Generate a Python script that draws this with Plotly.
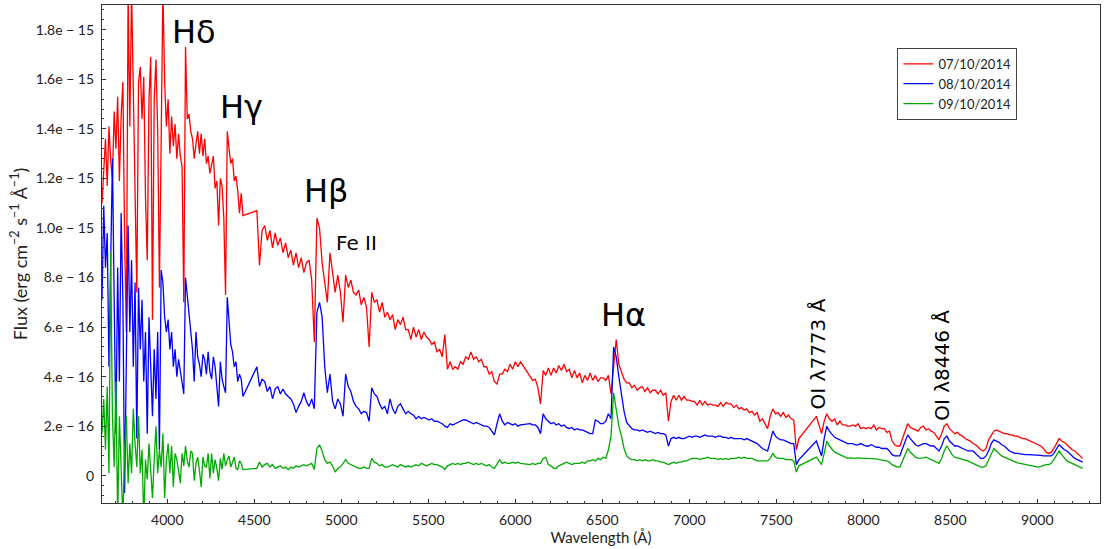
import numpy as np
import plotly.graph_objects as go

# Flux values are listed in units of 1e-16 erg cm^-2 s^-1 A^-1
FLUX_UNIT = 1e-16

# Dispersion grid: (first wavelength, last wavelength, step) of each spectral chunk, in Angstrom.
# The chunks are separated by the detector / telluric gaps.
chunks = [(3625, 4435, 10), (4515, 6030, 15), (6085, 7630, 15), (7730, 9260, 15)]

# --- 07/10/2014 ---
red_a = [11.0, 12.4, 13.6, 11.7, 14.1, 12.7, 12.0, 14.7, 13.2, 15.3,
         11.9, 14.5, 15.9, 9.5, 5.8, 19.6, 14.1, 19.6, 15.2, 11.7,
         7.4, 15.9, 16.5, 14.4, 16.1, 11.2, 8.7, 15.2, 16.9, 6.3,
         15.2, 16.8, 13.9, 7.6, 13.2, 19.6, 15.9, 14.1, 15.2, 13.0,
         14.5, 13.3, 14.2, 12.8, 13.8, 12.9, 12.5, 7.0, 17.3, 14.4,
         14.6, 13.9, 13.6, 12.8, 13.4, 13.9, 13.0, 13.8, 12.9, 13.6,
         12.6, 12.9, 12.2, 12.5, 12.9, 11.6, 11.9, 10.1, 12.0, 11.7,
         10.4, 7.3, 13.9, 13.2, 12.6, 12.8, 11.9, 12.1, 11.5, 10.6,
         11.4, 10.5]
red_b1 = [10.7, 8.5, 9.9, 10.1, 9.5, 9.9, 9.2, 9.8, 9.3, 9.6,
          9.0, 9.4, 8.8, 9.1, 8.5, 9.0, 8.4, 8.8, 8.2, 8.6,
          8.7, 7.9, 5.4, 10.4, 10.0, 8.6, 7.8, 7.0, 9.0, 8.1,
          7.4, 8.1, 7.4, 6.2, 8.1, 7.6, 7.9, 7.4, 7.3, 7.5,
          6.9, 7.2, 6.8, 5.2, 7.4, 7.0, 7.1, 6.6, 7.0, 6.4,
          6.6, 6.3, 6.5, 5.9, 6.3, 6.1, 6.4, 5.9, 5.9, 5.5,
          6.0, 5.6, 5.9, 5.5, 5.8, 5.6, 5.5, 5.3, 5.4, 5.0,
          5.1, 4.8, 5.7, 4.3, 4.6, 4.3, 4.4, 4.3, 4.6, 4.5,
          4.8, 4.7, 5.0, 4.7, 4.8, 4.6, 4.7, 4.4, 4.4, 4.1,
          4.2, 3.8, 3.7, 4.1, 4.1, 4.3, 4.2, 4.5, 4.3, 4.6,
          4.4, 4.6]
red_b2 = [4.0, 3.85, 3.9, 3.55, 2.9, 4.25, 4.05, 4.35, 4.05, 4.35,
          4.15, 4.45, 4.25, 4.5, 4.2, 4.3, 3.95, 4.25, 3.95, 4.15,
          3.75, 4.05, 3.85, 4.15, 3.85, 4.05, 3.8, 3.95, 3.95, 3.85,
          4.05, 3.3, 4.4, 5.5, 4.5, 4.2, 3.9, 3.75, 3.75, 3.55,
          3.65, 3.45, 3.55, 3.6, 3.4, 3.55, 3.35, 3.45, 3.45, 3.3,
          3.45, 3.25, 3.35, 2.2, 3.0, 3.25, 3.05, 3.25, 3.05, 3.2,
          3.05, 3.05, 3.0, 3.0, 2.85, 3.05, 2.85, 3.0, 2.85, 2.9,
          2.85, 2.85, 2.8, 2.95, 2.8, 2.95, 2.9, 2.9, 2.75, 2.85,
          2.7, 2.75, 2.65, 2.7, 2.55, 2.6, 2.45, 2.55, 2.2, 2.3,
          2.1, 1.9, 2.4, 2.7, 2.5, 2.55, 2.4, 2.55, 2.35, 2.45,
          2.3, 2.25, 1.05, 1.5]
red_c = [2.4, 2.0, 1.7, 2.2, 2.5, 2.3, 2.2, 2.3, 2.05, 2.2,
         2.05, 2.05, 2.0, 2.0, 2.05, 2.0, 2.1, 1.9, 1.95, 1.9,
         1.95, 1.9, 2.05, 1.85, 1.95, 1.9, 1.9, 1.75, 1.8, 1.4,
         1.25, 1.2, 1.2, 1.5, 1.8, 2.1, 1.95, 1.9, 1.85, 1.8,
         1.95, 2.0, 1.85, 1.9, 1.8, 1.75, 1.6, 1.45, 1.7, 2.0,
         2.1, 1.9, 1.8, 1.7, 1.75, 1.65, 1.6, 1.5, 1.45, 1.4,
         1.3, 1.25, 1.15, 1.05, 1.0, 1.1, 1.45, 1.6, 1.8, 1.85,
         1.8, 1.75, 1.7, 1.7, 1.65, 1.65, 1.6, 1.6, 1.55, 1.5,
         1.5, 1.45, 1.4, 1.35, 1.3, 1.25, 1.2, 1.1, 0.95, 0.9,
         0.95, 1.1, 1.3, 1.5, 1.4, 1.35, 1.25, 1.15, 1.05, 1.0,
         0.9, 0.8, 0.7]

# --- 08/10/2014 ---
blue_a = [7.1, 10.9, 8.4, 9.8, 4.4, 9.1, 12.8, 7.1, 1.7, 8.4,
          3.8, 10.6, 7.1, -0.7, 5.8, 10.1, 5.8, 8.7, 4.4, 7.8,
          1.5, 7.6, 5.1, 7.1, 3.8, 5.8, 1.7, 6.4, 4.4, 2.4,
          5.1, 3.1, 5.8, 1.05, 8.3, 7.8, 6.4, 5.8, 6.3, 5.1,
          5.8, 4.4, 5.1, 4.0, 4.7, 4.2, 3.8, 3.3, 8.0, 7.2,
          6.4, 5.6, 5.1, 3.8, 5.8, 4.8, 4.5, 4.0, 4.9, 4.7,
          4.1, 5.0, 4.2, 3.9, 4.8, 4.4, 3.5, 2.8, 4.6, 3.9,
          3.6, 3.35, 7.2, 6.3, 5.3, 5.0, 4.4, 4.6, 3.8, 4.1,
          3.9, 3.2]
blue_b1 = [4.4, 3.6, 3.9, 3.8, 3.4, 3.6, 3.1, 3.5, 3.6, 3.3,
           3.5, 3.3, 3.2, 3.1, 2.9, 2.55, 2.8, 3.0, 3.35, 3.0,
           2.8, 3.1, 2.7, 6.6, 7.0, 6.4, 4.4, 3.35, 4.1, 3.0,
           2.7, 3.1, 2.9, 2.4, 4.1, 3.6, 3.4, 3.0, 2.8, 2.7,
           2.5, 2.6, 2.55, 2.2, 3.55, 3.3, 3.2, 2.9, 2.7, 2.8,
           2.5, 3.1, 2.7, 2.5, 2.8, 2.9, 2.7, 2.5, 2.6, 2.5,
           2.45, 2.3, 2.4, 2.3, 2.35, 2.3, 2.25, 2.3, 2.2, 2.2,
           2.15, 2.1, 2.0, 1.95, 2.1, 2.05, 2.1, 2.15, 2.2, 2.25,
           2.25, 2.2, 2.15, 2.1, 2.15, 2.1, 2.05, 2.0, 2.0, 1.95,
           1.8, 1.65, 2.1, 2.5, 2.2, 2.05, 2.15, 2.1, 2.05, 2.1,
           2.0, 2.05]
blue_b2 = [2.1, 2.05, 2.05, 1.95, 1.7, 2.5, 2.3, 2.2, 2.1, 2.15,
           2.05, 2.1, 2.0, 2.05, 1.95, 1.9, 1.95, 1.85, 1.9, 1.85,
           1.85, 1.8, 1.75, 1.7, 1.7, 2.25, 2.2, 2.1, 2.1, 2.2,
           2.5, 2.3, 5.2, 4.8, 4.0, 3.3, 2.6, 2.15, 2.0, 1.9,
           1.85, 1.85, 1.8, 1.85, 1.8, 1.75, 1.8, 1.75, 1.7, 1.75,
           1.7, 1.7, 1.65, 1.2, 1.5, 1.55, 1.5, 1.55, 1.5, 1.5,
           1.55, 1.6, 1.55, 1.6, 1.6, 1.55, 1.6, 1.65, 1.6, 1.6,
           1.6, 1.55, 1.6, 1.6, 1.55, 1.55, 1.5, 1.55, 1.5, 1.5,
           1.5, 1.5, 1.45, 1.5, 1.45, 1.4, 1.35, 1.3, 1.2, 1.1,
           1.05, 1.0, 1.4, 1.8, 1.6, 1.5, 1.45, 1.45, 1.4, 1.35,
           1.3, 1.3, 0.45, 0.65]
blue_c = [1.4, 1.1, 0.8, 1.5, 2.0, 1.8, 1.65, 1.55, 1.5, 1.45,
          1.4, 1.35, 1.3, 1.3, 1.3, 1.25, 1.25, 1.3, 1.25, 1.2,
          1.2, 1.25, 1.2, 1.15, 1.15, 1.1, 1.1, 1.1, 1.0, 0.85,
          0.8, 0.8, 0.8, 1.1, 1.4, 1.65, 1.5, 1.35, 1.25, 1.2,
          1.25, 1.3, 1.3, 1.25, 1.2, 1.2, 1.1, 1.0, 1.2, 1.5,
          1.6, 1.4, 1.3, 1.2, 1.2, 1.15, 1.1, 1.05, 1.0, 1.0,
          1.0, 0.9, 0.8, 0.7, 0.7, 0.8, 1.0, 1.3, 1.45, 1.4,
          1.35, 1.25, 1.2, 1.1, 1.0, 0.95, 0.9, 0.9, 0.88, 0.85,
          0.85, 0.85, 0.85, 0.85, 0.85, 0.85, 0.82, 0.8, 0.8, 0.8,
          0.8, 0.9, 1.1, 1.25, 1.15, 1.05, 1.0, 0.9, 0.8, 0.7,
          0.65, 0.6, 0.55]

# --- 09/10/2014 ---
green_a = [1.7, 3.1, 1.05, 3.6, 0.1, 9.0, 2.4, 0.35, 3.8, -1.8,
           2.4, 0.65, -1.8, 1.05, 2.4, -0.3, 1.3, 0.1, 2.7, 1.3,
           0.35, 2.4, 0.1, 1.05, -1.8, 0.65, -0.15, 1.3, 0.35, -0.9,
           0.65, 2.0, 0.1, 1.05, 0.35, 1.7, -0.9, 0.65, 1.3, 0.1,
           1.2, -0.45, 0.9, 0.65, 0.2, -0.3, 0.9, 0.4, 1.2, 0.6,
           0.35, 1.0, 0.9, -0.2, 0.5, 0.75, 0.2, -0.45, 0.75, 0.4,
           0.35, 0.9, -0.1, 0.9, 0.1, 0.65, 0.3, -0.2, 0.7, 0.25,
           0.9, 0.4, 0.65, 0.8, 0.35, 0.6, 0.75, 0.3, 0.25, 0.6,
           0.5, 0.25]
green_b1 = [0.3, 0.55, 0.35, 0.45, 0.5, 0.35, 0.45, 0.3, 0.35, 0.4,
            0.3, 0.35, 0.25, 0.35, 0.3, 0.4, 0.35, 0.4, 0.45, 0.4,
            0.45, 0.5, 0.25, 1.1, 1.25, 1.0, 0.65, 0.5, 0.55, 0.4,
            0.15, 0.3, 0.35, 0.5, 0.65, 0.5, 0.45, 0.4, 0.35, 0.3,
            0.3, 0.35, 0.3, 0.3, 0.7, 0.55, 0.5, 0.4, 0.45, 0.35,
            0.35, 0.4, 0.45, 0.4, 0.35, 0.45, 0.4, 0.35, 0.4, 0.35,
            0.4, 0.45, 0.4, 0.5, 0.45, 0.4, 0.45, 0.5, 0.45, 0.45,
            0.4, 0.35, 0.25, 0.4, 0.45, 0.5, 0.45, 0.5, 0.45, 0.5,
            0.5, 0.55, 0.5, 0.45, 0.5, 0.45, 0.5, 0.45, 0.4, 0.45,
            0.35, 0.3, 0.5, 0.65, 0.5, 0.55, 0.5, 0.5, 0.55, 0.5,
            0.55, 0.5]
green_b2 = [0.45, 0.5, 0.45, 0.5, 0.5, 0.7, 0.75, 0.45, 0.4, 0.3,
            0.3, 0.4, 0.45, 0.5, 0.55, 0.5, 0.45, 0.5, 0.5, 0.5,
            0.55, 0.5, 0.6, 0.6, 0.65, 0.6, 0.7, 0.65, 0.75, 0.7,
            1.05, 1.6, 3.35, 2.7, 2.0, 1.6, 1.1, 0.8, 0.7, 0.65,
            0.65, 0.6, 0.65, 0.6, 0.65, 0.6, 0.6, 0.65, 0.6, 0.6,
            0.55, 0.55, 0.5, 0.45, 0.5, 0.55, 0.5, 0.55, 0.55, 0.6,
            0.6, 0.65, 0.7, 0.7, 0.7, 0.65, 0.7, 0.7, 0.75, 0.7,
            0.7, 0.7, 0.65, 0.7, 0.65, 0.7, 0.65, 0.7, 0.7, 0.7,
            0.75, 0.7, 0.75, 0.7, 0.7, 0.7, 0.65, 0.6, 0.6, 0.6,
            0.6, 0.6, 0.7, 0.9, 0.75, 0.7, 0.7, 0.7, 0.65, 0.65,
            0.65, 0.6, 0.15, 0.4]
green_c = [0.75, 0.6, 0.45, 0.9, 1.4, 1.2, 1.05, 0.95, 0.9, 0.85,
           0.8, 0.75, 0.7, 0.72, 0.7, 0.7, 0.72, 0.7, 0.7, 0.7,
           0.7, 0.7, 0.7, 0.68, 0.65, 0.65, 0.62, 0.6, 0.55, 0.45,
           0.4, 0.35, 0.35, 0.6, 0.9, 1.1, 0.95, 0.85, 0.75, 0.7,
           0.7, 0.72, 0.75, 0.7, 0.65, 0.6, 0.55, 0.5, 0.7, 1.0,
           1.2, 1.0, 0.85, 0.75, 0.72, 0.7, 0.68, 0.65, 0.6, 0.55,
           0.5, 0.45, 0.4, 0.35, 0.35, 0.4, 0.65, 0.9, 1.1, 1.0,
           0.9, 0.8, 0.75, 0.7, 0.65, 0.6, 0.55, 0.52, 0.5, 0.48,
           0.45, 0.42, 0.4, 0.38, 0.36, 0.35, 0.38, 0.42, 0.45, 0.45,
           0.5, 0.65, 0.85, 1.0, 0.85, 0.7, 0.6, 0.55, 0.5, 0.45,
           0.4, 0.35, 0.3]

# Axis ticks
x_ticks = [4000, 4500, 5000, 5500, 6000, 6500, 7000, 7500, 8000, 8500, 9000]
y_tick_vals = [0, 2e-16, 4e-16, 6e-16, 8e-16, 1.0e-15, 1.2e-15, 1.4e-15, 1.6e-15, 1.8e-15]
y_tick_text = ["0", "2.e − 16", "4.e − 16", "6.e − 16", "8.e − 16",
               "1.0e − 15", "1.2e − 15", "1.4e − 15", "1.6e − 15", "1.8e − 15"]

# Line identifications: (label, wavelength, flux in 1e-16 units, font size, rotation)
line_labels = [
    ("Hδ", 4153, 17.9, 32, 0),
    ("Hγ", 4425, 14.9, 32, 0),
    ("Hβ", 4912, 11.5, 32, 0),
    ("Fe II", 5086, 9.4, 20, 0),
    ("Hα", 6620, 6.5, 32, 0),
    ("OI λ7773 Å", 7740, 4.9, 20, -90),
    ("OI λ8446 Å", 8454, 4.45, 20, -90),
]

wavelength = np.concatenate([np.arange(lo, hi + 1, step) for lo, hi, step in chunks])

series = [
    ("07/10/2014", red_a + red_b1 + red_b2 + red_c, "#ff0000"),
    ("08/10/2014", blue_a + blue_b1 + blue_b2 + blue_c, "#0000ff"),
    ("09/10/2014", green_a + green_b1 + green_b2 + green_c, "#00aa00"),
]

fig = go.Figure()
for name, fx, color in series:
    fig.add_trace(go.Scatter(
        x=wavelength, y=np.array(fx) * FLUX_UNIT, mode="lines", name=name,
        line=dict(color=color, width=1.3),
    ))

for text, wl, fx, size, angle in line_labels:
    fig.add_annotation(
        x=wl, y=fx * FLUX_UNIT, text=text, showarrow=False, textangle=angle,
        xanchor="center", yanchor="middle",
        font=dict(family="DejaVu Sans", size=size, color="black"),
    )

tick_font = dict(family="Lato", size=14, color="#222")
axis_common = dict(showline=True, linecolor="#333", linewidth=1.2, mirror=True,
                   showgrid=False, zeroline=False, ticks="inside", tickcolor="#333",
                   ticklen=4, tickwidth=1, tickfont=tick_font)

fig.update_xaxes(
    range=[3625, 9360], tickvals=x_ticks,
    minor=dict(dtick=100, tick0=0, ticks="inside", ticklen=2, tickcolor="#333"),
    title=dict(text="Wavelength (Å)", font=dict(family="Lato", size=15, color="#222"), standoff=4),
    ticklabelstandoff=4,
    **axis_common,
)
fig.update_yaxes(
    range=[-1.1e-16, 1.9e-15], tickvals=y_tick_vals, ticktext=y_tick_text,
    minor=dict(dtick=4e-17, tick0=0, ticks="inside", ticklen=2, tickcolor="#333"),
    title=dict(text="Flux (erg cm<sup>−2</sup> s<sup>−1</sup> Å<sup>−1</sup>)",
               font=dict(family="Lato", size=18, color="#222"), standoff=3),
    ticklabelstandoff=4,
    **axis_common,
)

fig.update_layout(
    width=1106, height=549,
    margin=dict(l=102, r=6, t=5, b=46, autoexpand=False),
    paper_bgcolor="white", plot_bgcolor="white",
    showlegend=True,
    legend=dict(x=0.797, y=0.914, xanchor="left", yanchor="top",
                bgcolor="white", bordercolor="#444", borderwidth=1,
                font=dict(family="Lato", size=13, color="#222")),
)

fig.write_html("out.html")
